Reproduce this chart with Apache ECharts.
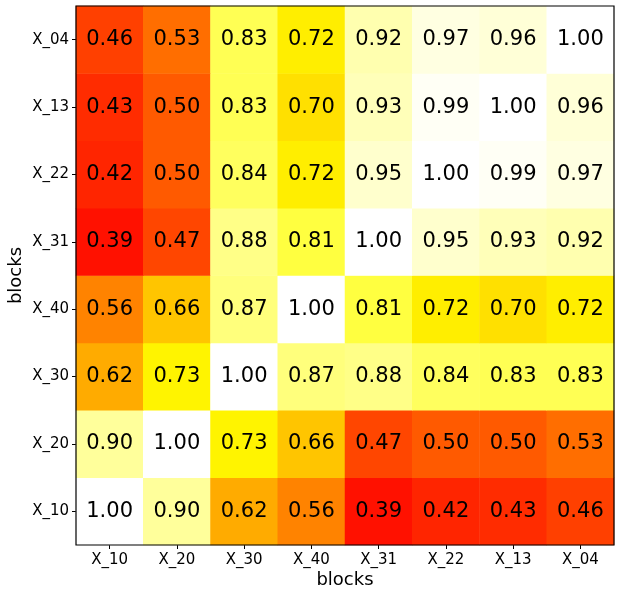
<!DOCTYPE html>
<html>
<head>
<meta charset="utf-8">
<script src="https://cdn.jsdelivr.net/npm/echarts@6/dist/echarts.min.js"></script>
<style>
  html, body { margin: 0; padding: 0; background: #fff; }
  #main { width: 621px; height: 597px; }
</style>
</head>
<body>
<div id="main"></div>
<script>
// categories, left to right / bottom to top
var xBlocks = ['X_10', 'X_20', 'X_30', 'X_40', 'X_31', 'X_22', 'X_13', 'X_04']
var yBlocks = ['X_10', 'X_20', 'X_30', 'X_40', 'X_31', 'X_22', 'X_13', 'X_04']

// one row per y block (bottom row first), values along xBlocks
var rowX10 = [1.00, 0.90, 0.62, 0.56, 0.39, 0.42, 0.43, 0.46]
var rowX20 = [0.90, 1.00, 0.73, 0.66, 0.47, 0.50, 0.50, 0.53]
var rowX30 = [0.62, 0.73, 1.00, 0.87, 0.88, 0.84, 0.83, 0.83]
var rowX40 = [0.56, 0.66, 0.87, 1.00, 0.81, 0.72, 0.70, 0.72]
var rowX31 = [0.39, 0.47, 0.88, 0.81, 1.00, 0.95, 0.93, 0.92]
var rowX22 = [0.42, 0.50, 0.84, 0.72, 0.95, 1.00, 0.99, 0.97]
var rowX13 = [0.43, 0.50, 0.83, 0.70, 0.93, 0.99, 1.00, 0.96]
var rowX04 = [0.46, 0.53, 0.83, 0.72, 0.92, 0.97, 0.96, 1.00]
var rows = [rowX10, rowX20, rowX30, rowX40, rowX31, rowX22, rowX13, rowX04]

var data = []
rows.forEach(function (row, yi) {
  row.forEach(function (v, xi) {
    data.push([xi, yi, v])
  })
})

// matplotlib 'hot' colormap, sampled for the visualMap
function hot (t) {
  var r = Math.min(1, t / 0.365)
  var g = Math.max(0, Math.min(1, (t - 0.365) / 0.381))
  var b = Math.max(0, Math.min(1, (t - 0.746) / 0.254))
  return 'rgb(' + Math.round(r * 255) + ',' + Math.round(g * 255) + ',' + Math.round(b * 255) + ')'
}
var hotColors = []
for (var i = 0; i <= 100; i++) hotColors.push(hot(i / 100))

var font = 'DejaVu Sans'
var chart = echarts.init(document.getElementById('main'))
chart.setOption({
  animation: false,
  textStyle: { fontFamily: font },
  grid: {
    left: 76, right: 7, top: 6, bottom: 52,
    containLabel: false,
    outerBoundsMode: 'none',
    show: true, borderColor: '#000', borderWidth: 1.2, z: 10
  },
  visualMap: { show: false, min: 0, max: 1, dimension: 2, inRange: { color: hotColors } },
  xAxis: {
    type: 'category',
    data: xBlocks,
    name: 'blocks',
    nameLocation: 'middle',
    nameGap: 26,
    nameMoveOverlap: false,
    nameTextStyle: { fontSize: 18, color: '#000', fontFamily: font },
    axisLine: { show: false },
    axisTick: { show: true, alignWithLabel: true, length: 4, lineStyle: { color: '#000' } },
    axisLabel: { fontSize: 15, color: '#000', margin: 8, fontFamily: font, hideOverlap: false },
    splitLine: { show: false }
  },
  yAxis: {
    type: 'category',
    data: yBlocks,
    name: 'blocks',
    nameLocation: 'middle',
    nameGap: 51,
    nameMoveOverlap: false,
    nameTextStyle: { fontSize: 18, color: '#000', fontFamily: font },
    axisLine: { show: false },
    axisTick: { show: true, alignWithLabel: true, length: 4, lineStyle: { color: '#000' } },
    axisLabel: { fontSize: 15, color: '#000', margin: 7, fontFamily: font },
    splitLine: { show: false }
  },
  series: [{
    type: 'heatmap',
    data: data,
    label: {
      show: true,
      fontSize: 21,
      color: '#000',
      fontFamily: font,
      formatter: function (p) { return p.value[2].toFixed(2) }
    }
  }]
})
</script>
</body>
</html>
